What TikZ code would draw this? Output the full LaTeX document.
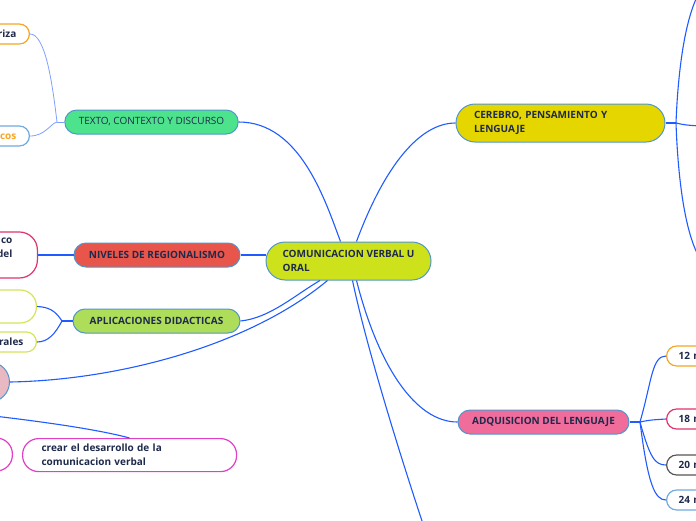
\documentclass[tikz,border=0pt]{standalone}
\usepackage{fontspec}
\setmainfont{Open Sans}
\definecolor{tinta}{HTML}{1E2A4C}
\definecolor{azul}{HTML}{1F5BFF}
\definecolor{azulclaro}{HTML}{7F9FFF}
\definecolor{bordeazul}{HTML}{4F96CF}
\definecolor{lima}{HTML}{CDE21B}
\definecolor{amarillo}{HTML}{E6D600}
\definecolor{verde}{HTML}{4DE38C}
\definecolor{rojo}{HTML}{E8554A}
\definecolor{verdeclaro}{HTML}{AEDD5A}
\definecolor{rosa}{HTML}{F06C9B}
\definecolor{rosapalido}{HTML}{E8B9C2}
\definecolor{naranja}{HTML}{F5A623}
\definecolor{rojorosa}{HTML}{E0336B}
\definecolor{gris}{HTML}{555555}
\definecolor{celeste}{HTML}{6FAAE0}
\definecolor{amarilloverde}{HTML}{D6E45A}
\definecolor{magenta}{HTML}{E03FC6}
\begin{document}
\begin{tikzpicture}[x=1pt, y=-1pt, line join=round,
    rama/.style={draw=azul, line width=1.1pt},
    ramita/.style={draw=azulclaro, line width=0.8pt},
    tema/.style={draw=bordeazul, line width=1pt, rounded corners=12pt,
        minimum height=24pt, inner xsep=14pt, inner ysep=0pt, text=tinta,
        font=\bfseries\fontsize{10}{14}\selectfont},
    hoja/.style={draw=#1, fill=white, line width=1.2pt, rounded corners=10pt,
        minimum height=20pt, inner ysep=0pt, text=tinta,
        font=\bfseries\fontsize{10}{14}\selectfont}]
    % marco de la imagen
    \useasboundingbox (0,0) rectangle (696,520);
    \clip (0,0) rectangle (696,520);

    % nodo central y temas
    \node[tema, fill=lima, minimum width=165pt, minimum height=38pt, rounded corners=19pt, align=left] (comun) at (348.5,261) {COMUNICACION VERBAL U\\ORAL};
    \node[tema, fill=amarillo, minimum height=38pt, rounded corners=19pt, text width=173pt, inner xsep=18pt, align=left] (cerebro) at (560.5,123) {CEREBRO, PENSAMIENTO Y\\LENGUAJE};
    \node[tema, fill=verde, minimum width=169pt, font=\fontsize{10}{14}\selectfont] (texto) at (151.5,122) {TEXTO, CONTEXTO Y DISCURSO};
    \node[tema, fill=rojo, minimum width=166pt] (niveles) at (157,255) {NIVELES DE REGIONALISMO};
    \node[tema, fill=verdeclaro, minimum width=167pt] (aplic) at (156.5,321) {APLICACIONES DIDACTICAS};
    \node[tema, fill=rosa, minimum width=171pt] (adq) at (543.5,422) {ADQUISICION DEL LENGUAJE};

    % hojas cortadas por el borde izquierdo
    \node[hoja=naranja, anchor=east, text width=60pt, align=right, inner xsep=13pt] (riza) at (30,34) {riza};
    \node[hoja=celeste, text=naranja, anchor=east, text width=60pt, align=right, inner xsep=13pt] (icos) at (30,136) {icos};
    \node[hoja=rojorosa, anchor=east, minimum height=46pt, rounded corners=18pt, text width=60pt, align=right, inner xsep=25pt] (regio) at (38,255) {co\\del\\\mbox{}};
    \node[hoja=amarilloverde, anchor=east, minimum width=80pt, minimum height=33pt, rounded corners=16pt] (didact) at (37,306.5) {};
    \node[hoja=amarilloverde, anchor=east, text width=60pt, align=right, inner xsep=13pt] (rales) at (37,342) {rales};
    \node[draw=bordeazul, fill=rosapalido, line width=1pt, anchor=east, minimum width=60pt, minimum height=40pt, rounded corners=20pt] (circulo) at (10,382) {};
    \node[hoja=magenta, anchor=east, minimum width=60pt, minimum height=33pt, rounded corners=16pt] (previo) at (13,454.5) {};
    \node[hoja=magenta, anchor=north west, minimum height=33pt, rounded corners=16pt, text width=176pt, inner xsep=19pt, align=left] (crear) at (22,438) {crear el desarrollo de la\\comunicacion verbal};

    % hojas de la adquisicion
    \node[hoja=naranja, anchor=west, text width=60pt, align=left, inner xsep=12pt] (m12) at (666,356) {12 m};
    \node[hoja=rojorosa, anchor=west, text width=60pt, align=left, inner xsep=12pt] (m18) at (666,419) {18 m};
    \node[hoja=gris, anchor=west, text width=60pt, align=left, inner xsep=12pt] (m20) at (666,465) {20 m};
    \node[hoja=celeste, anchor=west, text width=60pt, align=left, inner xsep=12pt] (m24) at (666,500) {24 m};

    % bifurcaciones y extremos libres
    \coordinate (ftexto) at (57,122);
    \coordinate (faplic) at (62,321);
    \coordinate (fcere) at (676,123);
    \coordinate (fadq) at (640,422);
    \coordinate (arriba) at (698,-5);
    \coordinate (abajo) at (698,255);
    \coordinate (derecha) at (700,126);
    \coordinate (fondo) at (425,530);
    \coordinate (padre) at (-80,408);

    % ramas del nodo central
    \draw[rama] ([xshift=8pt]comun.north) .. controls (385,165) and (420,123) .. (cerebro.west);
    \draw[rama] (texto.east) .. controls (300,122) and (325,200) .. ([xshift=-8pt]comun.north);
    \draw[rama] (niveles.east) -- (niveles.east -| comun.west);
    \draw[rama] (aplic.east) .. controls (270,318) and (295,295) .. ([xshift=-28.5pt]comun.south);
    \draw[rama] (circulo.east) .. controls (120,380) and (250,345) .. ([xshift=-21pt]comun.south);
    \draw[rama] ([xshift=8pt]comun.south) .. controls (378,365) and (415,422) .. (adq.west);
    \draw[rama] ([xshift=4pt]comun.south) .. controls (365,340) and (395,440) .. (fondo);

    % ramas secundarias
    \draw[ramita] (texto.west) -- (ftexto);
    \draw[ramita] (riza.east) .. controls (45,34) and (52,80) .. (ftexto);
    \draw[ramita] (icos.east) .. controls (45,136) and (50,124) .. (ftexto);
    \draw[rama] (niveles.west) -- (regio.east);
    \draw[rama] (aplic.west) -- (faplic);
    \draw[rama] (faplic) .. controls (55,310) and (48,307) .. (didact.east);
    \draw[rama] (faplic) .. controls (55,334) and (48,342) .. (rales.east);
    \draw[rama] (padre) .. controls (40,420) and (100,430) .. (crear.north);
    \draw[rama] (cerebro.east) -- (fcere);
    \draw[rama] (fcere) .. controls (678,70) and (685,20) .. (arriba);
    \draw[rama] (fcere) .. controls (678,180) and (685,230) .. (abajo);
    \draw[rama] (fcere) .. controls (685,125) .. (derecha);
    \draw[rama] (adq.east) -- (fadq);
    \draw[rama] (fadq) .. controls (652,380) and (652,356) .. (m12.west);
    \draw[rama] (fadq) .. controls (650,420) .. (m18.west);
    \draw[rama] (fadq) .. controls (650,458) and (655,465) .. (m20.west);
    \draw[rama] (fadq) .. controls (648,485) and (655,500) .. (m24.west);
\end{tikzpicture}
\end{document}
